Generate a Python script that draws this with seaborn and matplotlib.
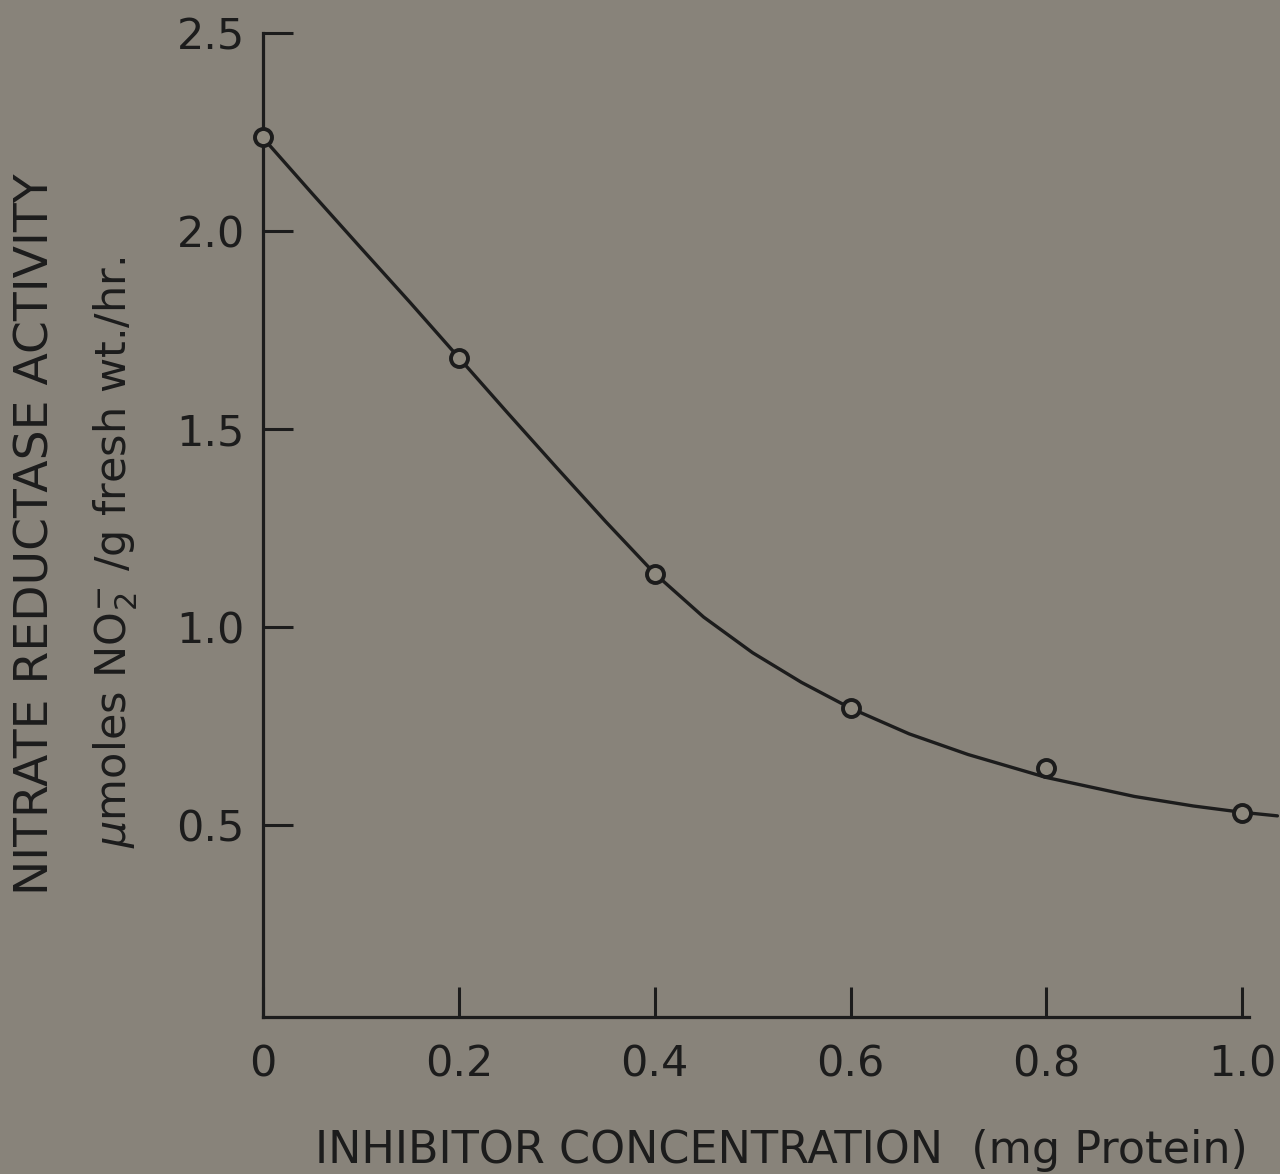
import matplotlib
matplotlib.use("Agg")
import matplotlib.pyplot as plt
import seaborn as sns
import pandas as pd

# measured points
conc = [0.0, 0.2, 0.4, 0.6, 0.8, 1.0]
activity = [2.237, 1.68, 1.135, 0.795, 0.645, 0.53]

# smooth hand-drawn curve
curve_x = [0.0, 0.05, 0.1, 0.15, 0.2, 0.25, 0.3, 0.35, 0.4, 0.45, 0.5, 0.55,
           0.6, 0.66, 0.72, 0.8, 0.89, 0.95, 1.0, 1.036]
curve_y = [2.235, 2.095, 1.957, 1.82, 1.68, 1.54, 1.402, 1.266, 1.135, 1.025,
           0.935, 0.86, 0.795, 0.73, 0.678, 0.62, 0.572, 0.548, 0.532, 0.523]

xticks = [0.0, 0.2, 0.4, 0.6, 0.8, 1.0]
xtick_labels = ["0", "0.2", "0.4", "0.6", "0.8", "1.0"]
yticks = [0.5, 1.0, 1.5, 2.0, 2.5]
ytick_labels = ["0.5", "1.0", "1.5", "2.0", "2.5"]

sns.set_theme(style="ticks")
bg = "#88837a"
ink = "#1c1c1c"
plt.rcParams["font.family"] = ["DejaVu Sans"]

fig = plt.figure(figsize=(12.8, 11.74), dpi=100, facecolor=bg)
ax = fig.add_axes([0.2055, 0.1337, 0.7703, 0.8382])
ax.set_facecolor(bg)

curve_df = pd.DataFrame({"x": curve_x, "y": curve_y})
pts_df = pd.DataFrame({"x": conc, "y": activity})

sns.lineplot(data=curve_df, x="x", y="y", ax=ax, color=ink, linewidth=2.4,
             sort=False, clip_on=False)
sns.scatterplot(data=pts_df, x="x", y="y", ax=ax, s=150, marker="o",
                facecolor="#8e897e", edgecolor=ink, linewidth=2.8,
                zorder=5, clip_on=False)

ax.set_xlim(0.0, 1.007)
ax.set_ylim(0.015, 2.5)
ax.set_xticks(xticks)
ax.set_xticklabels(xtick_labels)
ax.set_yticks(yticks)
ax.set_yticklabels(ytick_labels)

for side in ["top", "right"]:
    ax.spines[side].set_visible(False)
for side in ["left", "bottom"]:
    ax.spines[side].set_linewidth(2.3)
    ax.spines[side].set_color(ink)

ax.tick_params(axis="both", direction="in", length=21.5, width=2.2,
               color=ink, labelcolor=ink, labelsize=31)
ax.tick_params(axis="x", pad=19)
ax.tick_params(axis="y", pad=13)
ax.set_xlabel("")
ax.set_ylabel("")

fig.text(781 / 1280, 11 / 1174, "INHIBITOR CONCENTRATION  (mg Protein)",
         ha="center", va="baseline", fontsize=32, color=ink)
fig.text(36 / 1280, 1 - 534 / 1174, "NITRATE REDUCTASE ACTIVITY",
         rotation=90, ha="center", va="center", fontsize=34, color=ink)
fig.text(116 / 1280, 1 - 552 / 1174, r"$\mu$moles NO$_2^{-}$ /g fresh wt./hr.",
         rotation=90, ha="center", va="center", fontsize=31, color=ink)

fig.savefig("out.png", dpi=100, facecolor=bg)
